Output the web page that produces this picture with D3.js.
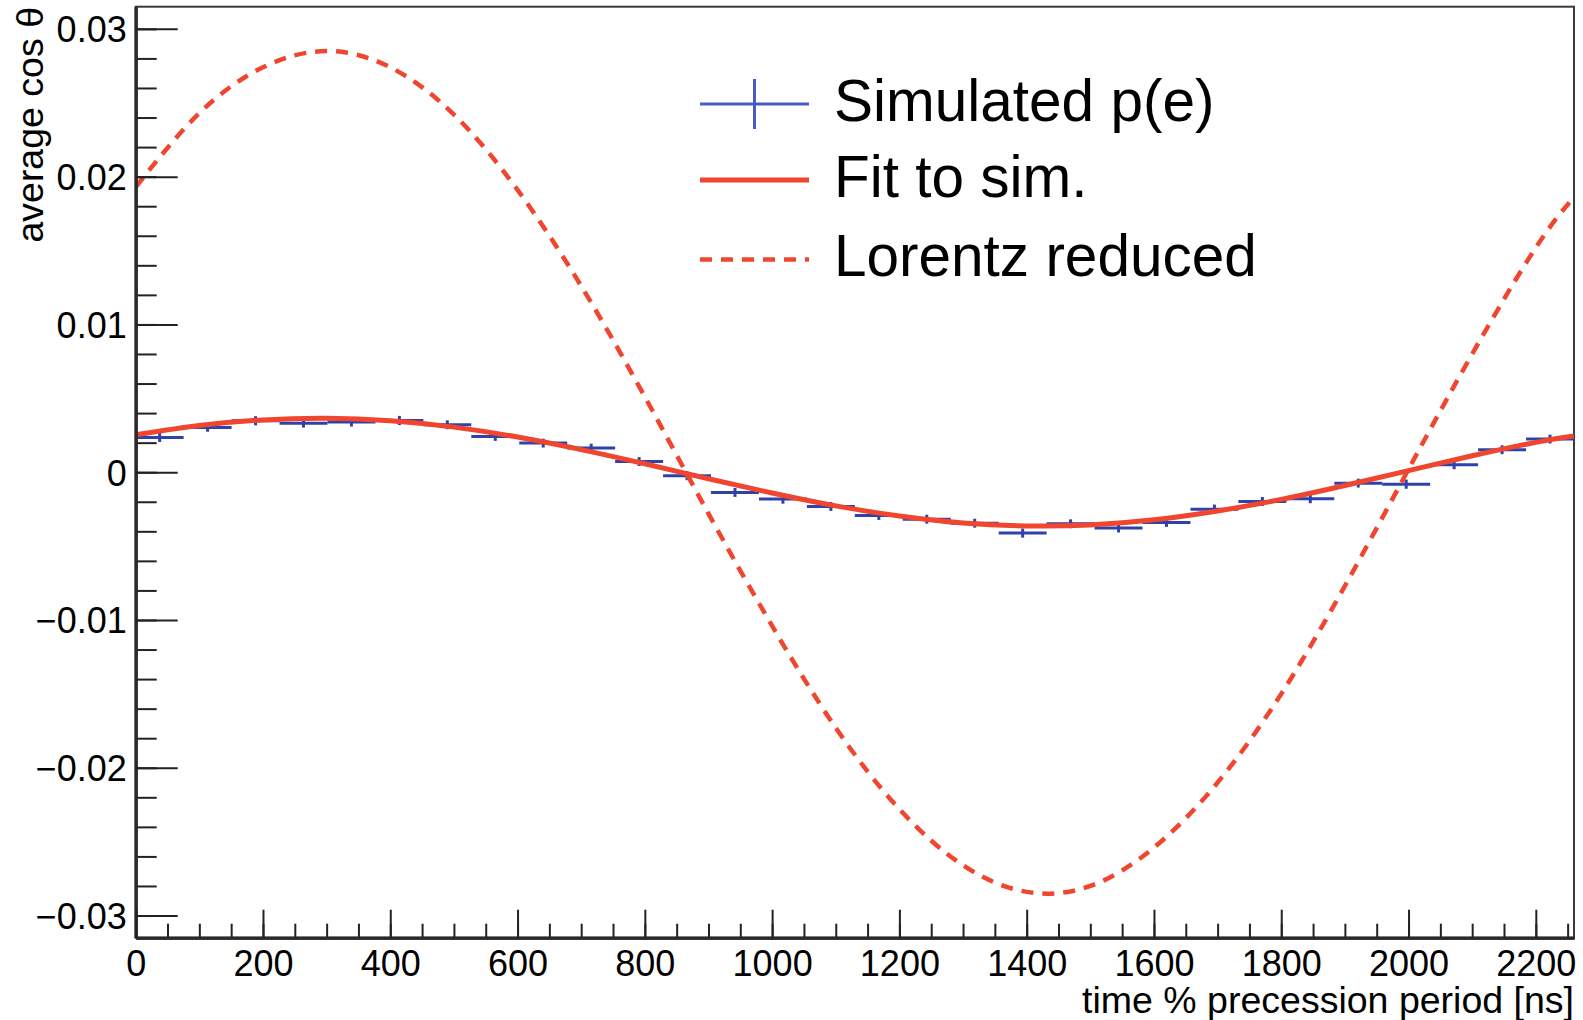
<!DOCTYPE html>
<html>
<head>
<meta charset="utf-8">
<script src="https://cdn.jsdelivr.net/npm/d3@7"></script>
<style>
  html, body { margin: 0; padding: 0; background: #ffffff; }
  svg { display: block; font-family: "Liberation Sans", Arial, Helvetica, sans-serif; }
</style>
</head>
<body>
<svg id="chart" width="1583" height="1020"></svg>
<script>
// Histogram binning of the simulated asymmetry
const histRange = [0, 2260];
const histBins = 30;
// Bin contents: average cos(theta) per bin
const simValues = [
  0.00235, 0.00303, 0.00348, 0.00332, 0.00339, 0.00350,
  0.00321, 0.00242, 0.00197, 0.00163, 0.00072, -0.00024,
  -0.00137, -0.00182, -0.00232, -0.00293, -0.00318, -0.00345,
  -0.00412, -0.00349, -0.00378, -0.00340, -0.00250, -0.00198,
  -0.00180, -0.00074, -0.00081, 0.00050, 0.00152, 0.00224
];
// Bin errors
const simErrors = [
  0.00030, 0.00030, 0.00031, 0.00030, 0.00030, 0.00031,
  0.00030, 0.00030, 0.00030, 0.00030, 0.00030, 0.00030,
  0.00030, 0.00031, 0.00030, 0.00030, 0.00030, 0.00030,
  0.00031, 0.00030, 0.00030, 0.00030, 0.00031, 0.00030,
  0.00030, 0.00030, 0.00031, 0.00030, 0.00030, 0.00030
];

// Sample times for the two curves [ns]
const curveTimes = [0, 100, 200, 300, 400, 500, 600, 700, 800, 900, 1000, 1100,
  1200, 1300, 1400, 1500, 1600, 1700, 1800, 1900, 2000, 2100, 2200, 2260];
// Fit to the simulation
const fitValues = [0.00253, 0.00316, 0.00354, 0.00365, 0.00348, 0.00305, 0.00238, 0.00153,
  0.00057, -0.00044, -0.00141, -0.00228, -0.00297, -0.00344, -0.00364, -0.00357,
  -0.00322, -0.00262, -0.00184, -0.00090, 0.00011, 0.00111, 0.00202, 0.00245];
// Lorentz-reduced expectation
const lorentzValues = [0.0193, 0.0243, 0.0274, 0.0285, 0.0274, 0.0242, 0.0191, 0.0126,
  0.0051, -0.0028, -0.0104, -0.0173, -0.0228, -0.0266, -0.0284, -0.0280,
  -0.0254, -0.0210, -0.0150, -0.0077, 0.0002, 0.0080, 0.0152, 0.0186];

// Axis ticks and labels
const xMajorTicks = [0, 200, 400, 600, 800, 1000, 1200, 1400, 1600, 1800, 2000, 2200];
const xTickLabels = ["0", "200", "400", "600", "800", "1000", "1200", "1400", "1600", "1800", "2000", "2200"];
const yMajorTicks = [-0.03, -0.02, -0.01, 0, 0.01, 0.02, 0.03];
const yTickLabels = ["\u22120.03", "\u22120.02", "\u22120.01", "0", "0.01", "0.02", "0.03"];
const xMinorStep = 50;
const yMinorStep = 0.002;

const legendLabels = ["Simulated p(e)", "Fit to sim.", "Lorentz reduced"];
const xTitle = "time % precession period [ns]";
const yTitle = "average cos \u03b8";

// ---- layout ----
const frame = { left: 135.7, right: 1574, top: 6.7, bottom: 937.7 };
const blue = "#2f42ac";
const red = "#f0452f";

const svg = d3.select("#chart");

const x = d3.scaleLinear().domain([0, 2260]).range([frame.left, frame.right]);
const y = d3.scaleLinear().domain([-0.0315, 0.0315]).range([frame.bottom, frame.top]);

svg.append("defs").append("clipPath").attr("id", "plotClip")
  .append("rect")
  .attr("x", frame.left).attr("y", frame.top)
  .attr("width", frame.right - frame.left).attr("height", frame.bottom - frame.top);

// frame box
svg.append("rect")
  .attr("x", frame.left).attr("y", frame.top)
  .attr("width", frame.right - frame.left).attr("height", frame.bottom - frame.top)
  .attr("fill", "none").attr("stroke", "#3a3a3a").attr("stroke-width", 2);

const plot = svg.append("g").attr("clip-path", "url(#plotClip)");

// histogram with error bars
const binWidth = (histRange[1] - histRange[0]) / histBins;
const bins = simValues.map((v, i) => ({
  lo: histRange[0] + i * binWidth,
  hi: histRange[0] + (i + 1) * binWidth,
  mid: histRange[0] + (i + 0.5) * binWidth,
  v: v,
  e: simErrors[i]
}));
const hist = plot.append("g").attr("stroke", blue).attr("stroke-width", 3);
hist.selectAll("line.h").data(bins).join("line").attr("class", "h")
  .attr("x1", d => x(d.lo)).attr("x2", d => x(d.hi))
  .attr("y1", d => y(d.v)).attr("y2", d => y(d.v));
hist.selectAll("line.v").data(bins).join("line").attr("class", "v")
  .attr("x1", d => x(d.mid)).attr("x2", d => x(d.mid))
  .attr("y1", d => y(d.v - d.e)).attr("y2", d => y(d.v + d.e));

// curves
const line = d3.line().x(d => x(d[0])).y(d => y(d[1])).curve(d3.curveNatural);
plot.append("path")
  .datum(curveTimes.map((t, i) => [t, fitValues[i]]))
  .attr("d", line).attr("fill", "none").attr("stroke", red).attr("stroke-width", 5);
plot.append("path")
  .datum(curveTimes.map((t, i) => [t, lorentzValues[i]]))
  .attr("d", line).attr("fill", "none").attr("stroke", red).attr("stroke-width", 4.5)
  .attr("stroke-dasharray", "12,9");

// axes
const fontSize = 36;
const yMinor = d3.range(-0.030, 0.0301, yMinorStep);
const xMinor = d3.range(0, 2251, xMinorStep);

const yMinorAxis = d3.axisLeft(y).tickValues(yMinor).tickSize(-21).tickFormat("").tickSizeOuter(0);
const yAxis = d3.axisLeft(y).tickValues(yMajorTicks).tickSize(-42).tickSizeOuter(0).tickPadding(9)
  .tickFormat((d, i) => yTickLabels[i]);
const xMinorAxis = d3.axisBottom(x).tickValues(xMinor).tickSize(-14).tickFormat("").tickSizeOuter(0);
const xAxis = d3.axisBottom(x).tickValues(xMajorTicks).tickSize(-28).tickSizeOuter(0).tickPadding(12)
  .tickFormat((d, i) => xTickLabels[i]);

function styleAxis(g) {
  g.select(".domain").attr("stroke", "#2a2a2a").attr("stroke-width", 3);
  g.selectAll(".tick line").attr("stroke", "#222").attr("stroke-width", 2);
  g.selectAll(".tick text").attr("fill", "#000").attr("font-size", fontSize)
    .attr("font-family", "'Liberation Sans', Arial, Helvetica, sans-serif");
}

svg.append("g").attr("transform", `translate(${frame.left},0)`).call(yMinorAxis).call(styleAxis);
svg.append("g").attr("transform", `translate(${frame.left},0)`).call(yAxis).call(styleAxis)
  .selectAll(".tick text").attr("dy", "0.36em");
svg.append("g").attr("transform", `translate(0,${frame.bottom})`).call(xMinorAxis).call(styleAxis);
svg.append("g").attr("transform", `translate(0,${frame.bottom})`).call(xAxis).call(styleAxis)
  .selectAll(".tick text").attr("dy", "0.72em");

// axis titles
svg.append("text")
  .attr("x", frame.right).attr("y", 1013)
  .attr("text-anchor", "end").attr("font-size", 37.5).attr("fill", "#000")
  .text(xTitle);
svg.append("text")
  .attr("transform", "translate(43,7) rotate(-90)")
  .attr("text-anchor", "end").attr("font-size", 37.5).attr("fill", "#000")
  .text(yTitle);

// legend
const legend = svg.append("g");
const legRows = [104, 180, 259.5];
const symX0 = 700, symX1 = 809, textX = 834;
legend.append("line").attr("x1", symX0).attr("x2", symX1).attr("y1", legRows[0]).attr("y2", legRows[0])
  .attr("stroke", "#4a5cc4").attr("stroke-width", 3);
legend.append("line").attr("x1", (symX0 + symX1) / 2).attr("x2", (symX0 + symX1) / 2)
  .attr("y1", legRows[0] - 25).attr("y2", legRows[0] + 25)
  .attr("stroke", "#4a5cc4").attr("stroke-width", 3);
legend.append("line").attr("x1", symX0).attr("x2", symX1).attr("y1", legRows[1]).attr("y2", legRows[1])
  .attr("stroke", red).attr("stroke-width", 5);
legend.append("line").attr("x1", symX0).attr("x2", symX1).attr("y1", legRows[2]).attr("y2", legRows[2])
  .attr("stroke", red).attr("stroke-width", 4.5).attr("stroke-dasharray", "12,9");
legend.selectAll("text").data(legendLabels).join("text")
  .attr("x", textX).attr("y", (d, i) => legRows[i])
  .attr("dy", "0.29em")
  .attr("font-size", 58.5).attr("fill", "#000")
  .text(d => d);
</script>
</body>
</html>
